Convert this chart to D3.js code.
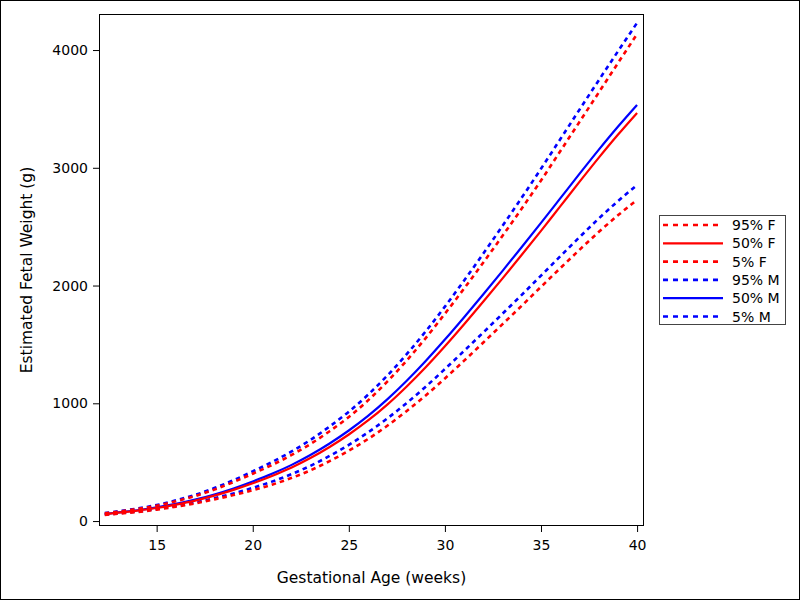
<!DOCTYPE html>
<html>
<head>
<meta charset="utf-8">
<script src="https://cdn.jsdelivr.net/npm/d3@7"></script>
<style>
  html, body { margin: 0; padding: 0; background: #fff; }
  svg { display: block; }
  text { font-family: "DejaVu Sans", sans-serif; fill: #000; }
</style>
</head>
<body>
<svg id="chart" width="800" height="600"></svg>
<script>
// ---- data ----
const weeks = [12.3, 13, 14, 15, 16, 17, 18, 19, 20, 21, 22, 23, 24, 25, 26, 27, 28, 29, 30, 31, 32, 33, 34, 35, 36, 37, 38, 39, 40];
const f95 = [66, 80, 103, 130, 168, 212, 267, 331, 402, 476, 559, 654, 763, 884, 1025, 1184, 1361, 1554, 1761, 1975, 2196, 2423, 2655, 2892, 3140, 3389, 3638, 3888, 4136];
const f50 = [58, 71, 89, 111, 140, 174, 216, 265, 321, 383, 453, 535, 629, 735, 854, 989, 1141, 1306, 1484, 1671, 1864, 2061, 2261, 2464, 2672, 2880, 3084, 3280, 3466];
const f5  = [52, 62, 77, 97, 122, 150, 184, 221, 262, 309, 365, 431, 509, 597, 697, 809, 933, 1067, 1211, 1362, 1516, 1672, 1829, 1989, 2147, 2303, 2454, 2596, 2727];
const m95 = [68, 83, 107, 136, 176, 222, 280, 347, 422, 501, 589, 689, 803, 929, 1073, 1235, 1415, 1611, 1821, 2043, 2272, 2507, 2747, 2992, 3242, 3493, 3742, 3988, 4231];
const m50 = [60, 73, 92, 116, 146, 182, 226, 277, 336, 401, 475, 561, 659, 769, 893, 1033, 1189, 1359, 1541, 1731, 1926, 2125, 2327, 2532, 2740, 2948, 3152, 3348, 3534];
const m5  = [54, 65, 81, 102, 128, 158, 194, 235, 282, 335, 397, 469, 553, 647, 753, 871, 1001, 1141, 1291, 1445, 1602, 1761, 1921, 2084, 2248, 2410, 2568, 2716, 2854];
const xTicks = [15, 20, 25, 30, 35, 40];
const yTicks = [0, 1000, 2000, 3000, 4000];
const seriesNames = ["95% F", "50% F", "5% F", "95% M", "50% M", "5% M"];
const seriesValues = [f95, f50, f5, m95, m50, m5];
const seriesColors = ["#ff0000", "#ff0000", "#ff0000", "#0000ff", "#0000ff", "#0000ff"];
const seriesDashed = [true, false, true, true, false, true];
const xTitle = "Gestational Age (weeks)";
const yTitle = "Estimated Fetal Weight (g)";

// ---- layout ----
const svg = d3.select("#chart");
const L = 99, R = 644, T = 14, B = 526;
const x = d3.scaleLinear().domain([12.0, 40.36]).range([L, R]);
const y = d3.scaleLinear().domain([-42, 4306]).range([B, T]);

// outer border
svg.append("rect").attr("x", 0.5).attr("y", 0.5).attr("width", 799).attr("height", 599)
  .attr("fill", "#fff").attr("stroke", "#000").attr("stroke-width", 1);

// plot area
svg.append("rect").attr("x", L).attr("y", T).attr("width", R - L).attr("height", B - T)
  .attr("fill", "#fff");

// lines (M drawn first, F on top)
const line = d3.line().x(d => x(d[0])).y(d => y(d[1])).curve(d3.curveMonotoneX);
const order = [3, 4, 5, 0, 1, 2];
const gLines = svg.append("g");
order.forEach(i => {
  gLines.append("path")
    .datum(weeks.map((w, k) => [w, seriesValues[i][k]]))
    .attr("d", line)
    .attr("fill", "none")
    .attr("stroke", seriesColors[i])
    .attr("stroke-width", seriesDashed[i] ? 2.6 : 2.2)
    .attr("stroke-dasharray", seriesDashed[i] ? "4.5,4" : null);
});

// axes
const xAxis = d3.axisBottom(x).tickValues(xTicks).tickFormat(d3.format("d")).tickSize(6).tickPadding(8).tickSizeOuter(0);
const yAxis = d3.axisLeft(y).tickValues(yTicks).tickFormat(d3.format("d")).tickSize(6).tickPadding(5).tickSizeOuter(0);
const gx = svg.append("g").attr("transform", `translate(0,${B})`).call(xAxis);
const gy = svg.append("g").attr("transform", `translate(${L},0)`).call(yAxis);
[gx, gy].forEach(g => {
  g.select(".domain").remove();
  g.selectAll(".tick line").attr("stroke", "#000");
  g.selectAll(".tick text").style("font-family", "DejaVu Sans, sans-serif").style("font-size", "14px").attr("fill", "#000");
});

// frame
svg.append("rect").attr("x", L + 0.5).attr("y", T + 0.5).attr("width", R - L - 1).attr("height", B - T - 1)
  .attr("fill", "none").attr("stroke", "#000").attr("stroke-width", 1);

// titles
svg.append("text").attr("x", (L + R) / 2).attr("y", 583).attr("text-anchor", "middle")
  .style("font-size", "15.5px").text(xTitle);
svg.append("text").attr("transform", `translate(32,${(T + B) / 2}) rotate(-90)`)
  .attr("text-anchor", "middle").style("font-size", "15.5px").text(yTitle);

// legend
const lg = svg.append("g");
lg.append("rect").attr("x", 659.5).attr("y", 215.5).attr("width", 126).attr("height", 109)
  .attr("fill", "#fff").attr("stroke", "#444").attr("stroke-width", 1);
seriesNames.forEach((name, i) => {
  const yy = 225 + i * 18.3;
  lg.append("line").attr("x1", 663).attr("x2", 723).attr("y1", yy).attr("y2", yy)
    .attr("stroke", seriesColors[i]).attr("stroke-width", seriesDashed[i] ? 2.6 : 2.2)
    .attr("stroke-dasharray", seriesDashed[i] ? "5,5" : null);
  lg.append("text").attr("x", 732).attr("y", yy).attr("dy", "0.36em")
    .style("font-size", "14px").text(name);
});
</script>
</body>
</html>
